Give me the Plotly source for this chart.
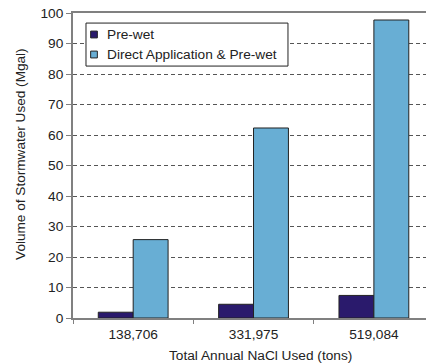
import plotly.graph_objects as go

categories = ["138,706", "331,975", "519,084"]
pre_wet = [1.9, 4.5, 7.4]
direct_pre_wet = [25.7, 62.3, 97.7]
series_names = ["Pre-wet", "Direct Application & Pre-wet"]
series_colors = ["#2a1a6c", "#68aed4"]

FONT = "Liberation Sans, Arial, sans-serif"
FS = 13.7
TXT = "#222222"

fig = go.Figure()
for vals, name, col in zip([pre_wet, direct_pre_wet], series_names, series_colors):
    fig.add_trace(go.Bar(x=categories, y=vals, name=name, showlegend=False,
                         marker=dict(color=col, line=dict(color="#222222", width=1))))

# custom legend (box, small square swatches, labels) in paper coordinates
shapes = [dict(type="rect", xref="paper", yref="paper", x0=0.0368, x1=0.609,
               y0=0.826, y1=0.967, line=dict(color="#222222", width=1),
               fillcolor="white", layer="above")]
annotations = []
for i, (name, col) in enumerate(zip(series_names, series_colors)):
    yc = 0.9295 - i * 0.0656
    shapes.append(dict(type="rect", xref="paper", yref="paper",
                       x0=0.0595 - 0.0095, x1=0.0595 + 0.0095,
                       y0=yc - 0.0112, y1=yc + 0.0112,
                       fillcolor=col, line=dict(color="#222222", width=1), layer="above"))
    annotations.append(dict(text=name, xref="paper", yref="paper", x=0.0907, y=yc,
                            xanchor="left", yanchor="middle", showarrow=False,
                            font=dict(size=FS, color=TXT)))

# axis titles
annotations.append(dict(text="Volume of Stormwater Used (Mgal)", xref="paper", yref="paper",
                        x=0, y=0.538, xshift=-52, textangle=-90, showarrow=False,
                        xanchor="center", yanchor="middle", font=dict(size=13.6, color=TXT)))
annotations.append(dict(text="Total Annual NaCl Used (tons)", xref="paper", yref="paper",
                        x=0.53, y=0, yshift=-37, showarrow=False,
                        xanchor="center", yanchor="middle", font=dict(size=FS, color=TXT)))

fig.update_layout(
    width=426, height=364,
    margin=dict(l=73, r=0, t=13, b=46),
    plot_bgcolor="white", paper_bgcolor="white",
    barmode="group", bargap=0.42, bargroupgap=0,
    font=dict(family=FONT, size=FS, color=TXT),
    showlegend=False,
    shapes=shapes,
    annotations=annotations,
    xaxis=dict(
        range=[-0.5, 2.433], automargin=False,
        showline=True, linecolor="#808080", linewidth=2, mirror=True,
        ticks="outside", tickson="boundaries", ticklen=4, tickcolor="#808080",
        tickfont=dict(size=FS), ticklabelstandoff=3,
    ),
    yaxis=dict(
        range=[0, 100], dtick=10, automargin=False,
        showline=True, linecolor="#808080", linewidth=2,
        ticks="outside", ticklen=5, tickcolor="#808080",
        showgrid=True, gridcolor="#555555", griddash="4px,3px", gridwidth=1,
        zeroline=False,
        tickfont=dict(size=FS),
    ),
)

# remove the page's default 8px body margin so the figure sits at the window origin
fig.write_html("out.html", config={"displayModeBar": False},
               post_script="document.body.style.margin='0';")
